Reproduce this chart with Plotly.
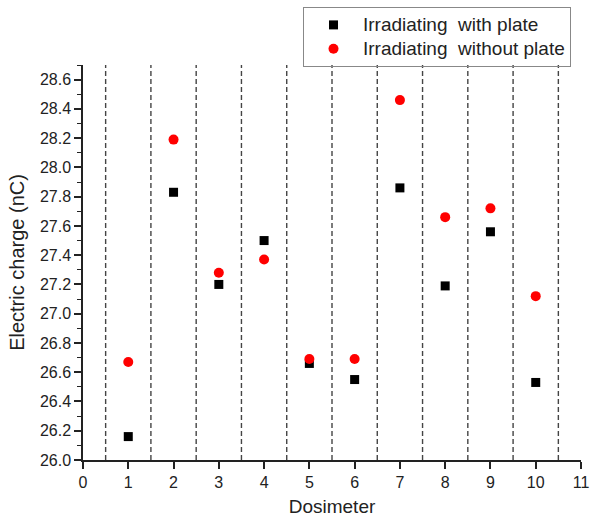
import plotly.graph_objects as go

dosimeter = [1, 2, 3, 4, 5, 6, 7, 8, 9, 10]
with_plate = [26.16, 27.83, 27.20, 27.50, 26.66, 26.55, 27.86, 27.19, 27.56, 26.53]
without_plate = [26.67, 28.19, 27.28, 27.37, 26.69, 26.69, 28.46, 27.66, 27.72, 27.12]
separators = [0.5, 1.5, 2.5, 3.5, 4.5, 5.5, 6.5, 7.5, 8.5, 9.5, 10.5]
x_ticks = list(range(0, 12))
y_ticks = [26.0, 26.2, 26.4, 26.6, 26.8, 27.0, 27.2, 27.4, 27.6, 27.8, 28.0, 28.2, 28.4, 28.6]
legend_names = ["Irradiating\u00a0\u00a0with plate", "Irradiating\u00a0\u00a0without plate"]

def big(txt):
    return '<span style="font-size:19px">' + txt + '</span>'

fig = go.Figure()
fig.add_trace(go.Scatter(x=dosimeter, y=with_plate, mode="markers",
                         name=big(legend_names[0]),
                         marker=dict(symbol="square", size=9, color="black")))
fig.add_trace(go.Scatter(x=dosimeter, y=without_plate, mode="markers",
                         name=big(legend_names[1]),
                         marker=dict(symbol="circle", size=10, color="red")))

for s in separators:
    fig.add_shape(type="line", xref="x", yref="paper", x0=s, x1=s, y0=0, y1=1,
                  line=dict(color="#444", width=1.4, dash="5px,3px"), layer="below")

font = "Liberation Sans, Arial, sans-serif"
ink = "#222"
W, H = 590, 519
L, R, T, B = 83, 9, 65, 59
pw, ph = W - L - R, H - T - B
fig.update_layout(
    width=W, height=H,
    margin=dict(l=L, r=R, t=T, b=B, autoexpand=False),
    plot_bgcolor="white", paper_bgcolor="white",
    font=dict(family=font, color=ink, size=16),
    showlegend=True,
    legend=dict(x=(571 - L) / pw, y=(H - B - 7) / ph, xanchor="right", yanchor="top",
                bordercolor="#888", borderwidth=1, bgcolor="rgba(255,255,255,0)",
                font=dict(size=16, family=font, color=ink),
                tracegroupgap=0, itemwidth=49),
    xaxis=dict(range=[0, 11], tickmode="array", tickvals=x_ticks,
               ticktext=[str(v) for v in x_ticks],
               showgrid=False, zeroline=False, showline=True,
               linecolor=ink, linewidth=1.5, ticks="outside",
               ticklen=7, tickwidth=1.5, tickcolor=ink,
               tickfont=dict(size=16, family=font, color=ink),
               title=dict(text="Dosimeter", font=dict(size=19, family=font, color=ink), standoff=10)),
    yaxis=dict(range=[26.0, 28.7], tickmode="array", tickvals=y_ticks,
               ticktext=[f"{v:.1f}" for v in y_ticks],
               showgrid=False, zeroline=False, showline=True,
               linecolor=ink, linewidth=1.5, ticks="outside",
               ticklen=7, tickwidth=1.5, tickcolor=ink,
               minor=dict(dtick=0.1, tick0=26.0, ticks="outside", ticklen=4, tickwidth=1.2, tickcolor=ink, showgrid=False),
               tickfont=dict(size=16, family=font, color=ink),
               title=dict(text="Electric charge (nC)", font=dict(size=20, family=font, color=ink), standoff=10)),
)

fig.write_html("out.html",
               config={"displayModeBar": False},
               post_script="document.body.style.margin='0';document.body.style.overflow='hidden';")
